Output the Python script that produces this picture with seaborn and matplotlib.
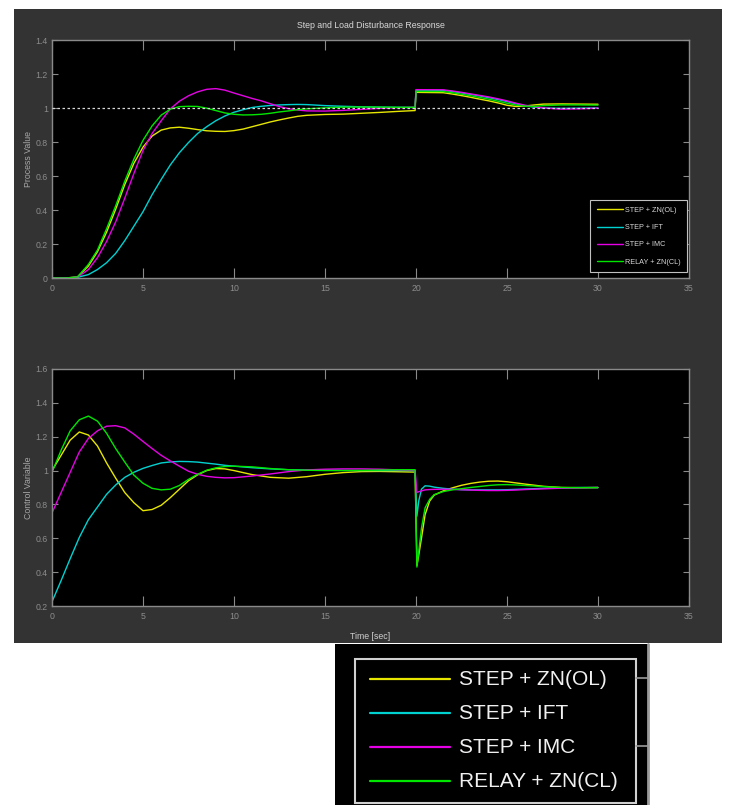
import matplotlib
matplotlib.use("Agg")
import numpy as np
import pandas as pd
import matplotlib.pyplot as plt
import seaborn as sns
from matplotlib.patches import Rectangle
from matplotlib.lines import Line2D

# ---- data ----
methods = ["STEP + ZN(OL)", "STEP + IFT", "STEP + IMC", "RELAY + ZN(CL)"]
colors = ["#e6e600", "#00d2d2", "#e600e6", "#00e600"]

setpoint = 1.0
setpoint_t = [0, 30]

# process value (top panel)
t_pv = [0, 0.75, 1.4, 2.0, 2.5, 3.0, 3.5, 4.0, 4.5, 5.0, 5.5, 6.0, 6.5, 7.0, 7.5,
        8.0, 8.5, 9.0, 9.5, 10.0, 10.5, 11.0, 11.5, 12.0, 12.5, 13.0, 13.5, 14.0,
        15.0, 16.0, 17.0, 18.0, 19.0, 19.95, 20.0, 21.5, 22.0, 22.5, 23.0, 23.5,
        24.0, 24.5, 25.0, 25.5, 26.0, 26.5, 27.0, 28.0, 29.0, 30.0]
pv_zn_ol = [0, 0.0, 0.006, 0.07, 0.155, 0.27, 0.405, 0.55, 0.675, 0.77, 0.835, 0.87,
            0.883, 0.887, 0.881, 0.873, 0.866, 0.863, 0.862, 0.867, 0.876, 0.89, 0.904,
            0.918, 0.93, 0.941, 0.951, 0.957, 0.962, 0.964, 0.969, 0.974, 0.98, 0.985,
            1.092, 1.09, 1.082, 1.073, 1.063, 1.052, 1.042, 1.03, 1.016, 1.009, 1.012,
            1.018, 1.023, 1.024, 1.023, 1.022]
pv_ift = [0, 0.0, 0.004, 0.02, 0.05, 0.09, 0.145, 0.22, 0.305, 0.39, 0.49, 0.58,
          0.665, 0.737, 0.797, 0.85, 0.89, 0.925, 0.953, 0.975, 0.99, 1.003, 1.01,
          1.015, 1.018, 1.02, 1.021, 1.02, 1.014, 1.01, 1.007, 1.005, 1.004, 1.003,
          1.105, 1.104, 1.097, 1.089, 1.08, 1.071, 1.061, 1.05, 1.038, 1.025, 1.013,
          1.005, 1.0, 0.998, 0.999, 1.0]
pv_imc = [0, 0.0, 0.005, 0.05, 0.12, 0.215, 0.33, 0.47, 0.615, 0.75, 0.85, 0.925,
          0.995, 1.04, 1.072, 1.095, 1.11, 1.114, 1.105, 1.088, 1.072, 1.056, 1.042,
          1.025, 1.008, 0.996, 0.988, 0.983, 0.982, 0.986, 0.992, 0.998, 1.002, 1.004,
          1.108, 1.107, 1.1, 1.092, 1.083, 1.074, 1.065, 1.054, 1.042, 1.028, 1.016,
          1.008, 1.0, 0.993, 0.995, 0.999]
pv_relay = [0, 0.0, 0.006, 0.08, 0.165, 0.29, 0.425, 0.57, 0.70, 0.81, 0.895, 0.958,
            0.993, 1.008, 1.01, 1.009, 0.999, 0.985, 0.971, 0.963, 0.959, 0.96, 0.963,
            0.969, 0.977, 0.983, 0.99, 0.995, 1.001, 1.005, 1.006, 1.005, 1.004, 1.004,
            1.098, 1.097, 1.09, 1.081, 1.072, 1.062, 1.052, 1.04, 1.028, 1.017, 1.011,
            1.009, 1.014, 1.018, 1.018, 1.017]

# control variable (bottom panel)
t_cv = [0, 0.5, 1.0, 1.5, 2.0, 2.5, 3.0, 3.5, 4.0, 4.5, 5.0, 5.5, 6.0, 6.5, 7.0, 7.5,
        8.0, 8.5, 9.0, 9.5, 10.0, 11.0, 12.0, 13.0, 14.0, 15.0, 16.0, 17.0, 18.0,
        19.0, 19.95, 20.05, 20.15, 20.3, 20.5, 20.75, 21.0, 21.5, 22.0, 22.5, 23.0,
        23.5, 24.0, 24.5, 25.0, 25.5, 26.0, 27.0, 28.0, 29.0, 30.0]
cv_zn_ol = [1.0, 1.09, 1.18, 1.228, 1.21, 1.145, 1.045, 0.955, 0.87, 0.81, 0.763, 0.77,
            0.795, 0.84, 0.89, 0.94, 0.975, 1.0, 1.012, 1.01, 1.0, 0.976, 0.96, 0.955,
            0.964, 0.978, 0.988, 0.994, 0.995, 0.993, 0.991, 0.44, 0.5, 0.6, 0.74, 0.82,
            0.855, 0.88, 0.898, 0.913, 0.924, 0.932, 0.937, 0.938, 0.934, 0.927, 0.92,
            0.907, 0.9, 0.899, 0.9]
cv_ift = [0.225, 0.35, 0.48, 0.605, 0.71, 0.785, 0.86, 0.915, 0.96, 0.99, 1.013, 1.03,
          1.045, 1.051, 1.054, 1.053, 1.05, 1.044, 1.038, 1.031, 1.026, 1.017, 1.01,
          1.005, 1.003, 1.002, 1.001, 1.0, 1.0, 1.0, 1.0, 0.73, 0.82, 0.89, 0.91, 0.908,
          0.902, 0.895, 0.89, 0.887, 0.886, 0.886, 0.886, 0.886, 0.887, 0.889, 0.891,
          0.895, 0.898, 0.9, 0.9]
cv_imc = [0.75, 0.87, 0.99, 1.11, 1.19, 1.235, 1.262, 1.265, 1.252, 1.215, 1.172, 1.13,
          1.09, 1.057, 1.026, 0.996, 0.978, 0.966, 0.96, 0.957, 0.958, 0.968, 0.98,
          0.994, 1.004, 1.008, 1.01, 1.01, 1.008, 1.004, 1.002, 0.87, 0.875, 0.88,
          0.886, 0.888, 0.889, 0.89, 0.889, 0.887, 0.885, 0.883, 0.882, 0.882, 0.883,
          0.885, 0.888, 0.892, 0.896, 0.898, 0.9]
cv_relay = [0.99, 1.12, 1.235, 1.3, 1.322, 1.292, 1.22, 1.13, 1.05, 0.973, 0.925, 0.895,
            0.886, 0.89, 0.912, 0.948, 0.978, 1.002, 1.016, 1.024, 1.026, 1.022, 1.012,
            1.005, 1.002, 1.0, 1.0, 1.001, 1.003, 1.005, 1.005, 0.43, 0.52, 0.66, 0.78,
            0.83, 0.858, 0.876, 0.886, 0.893, 0.9, 0.906, 0.912, 0.916, 0.917, 0.915,
            0.912, 0.905, 0.9, 0.899, 0.899]

x_ticks = [0, 5, 10, 15, 20, 25, 30, 35]
pv_ticks = [0, 0.2, 0.4, 0.6, 0.8, 1.0, 1.2, 1.4]
cv_ticks = [0.2, 0.4, 0.6, 0.8, 1.0, 1.2, 1.4, 1.6]


def long_frame(t, series):
    parts = [pd.DataFrame({"t": t, "value": v, "method": m}) for m, v in zip(methods, series)]
    return pd.concat(parts, ignore_index=True)


df_pv = long_frame(t_pv, [pv_zn_ol, pv_ift, pv_imc, pv_relay])
df_cv = long_frame(t_cv, [cv_zn_ol, cv_ift, cv_imc, cv_relay])

sns.set_theme(style="dark")
plt.rcParams["font.family"] = ["Liberation Sans", "DejaVu Sans"]

W, H = 729, 805
fig = plt.figure(figsize=(W / 100, H / 100), dpi=100)
fig.patch.set_facecolor("white")


def fx(px):
    return px / W


def fy(py):
    return 1 - py / H


# dark figure background (MATLAB style window)
fig.add_artist(Rectangle((fx(14), fy(643)), fx(722) - fx(14), fy(9) - fy(643),
                         transform=fig.transFigure, facecolor="#333333",
                         edgecolor="none", zorder=-1))

ax1 = fig.add_axes([fx(52), fy(278), fx(689) - fx(52), fy(40) - fy(278)])
ax2 = fig.add_axes([fx(52), fy(606), fx(689) - fx(52), fy(369) - fy(606)])

palette = dict(zip(methods, colors))
sns.lineplot(data=df_pv, x="t", y="value", hue="method", hue_order=methods,
             palette=palette, estimator=None, linewidth=1.0, legend=False, ax=ax1)
sns.lineplot(data=df_cv, x="t", y="value", hue="method", hue_order=methods,
             palette=palette, estimator=None, linewidth=1.0, legend=False, ax=ax2)

ax1.plot(setpoint_t, [setpoint, setpoint], color="#d8d8d8", lw=0.9,
         linestyle=(0, (2, 2)), zorder=5)

for ax, yt, ylim in [(ax1, pv_ticks, (0, 1.4)), (ax2, cv_ticks, (0.2, 1.6))]:
    ax.set_facecolor("black")
    ax.set_xlim(0, 35)
    ax.set_ylim(*ylim)
    ax.set_xticks(x_ticks)
    ax.set_xticklabels([f"{v:g}" for v in x_ticks])
    ax.set_yticks(yt)
    ax.set_yticklabels([f"{v:g}" for v in yt])
    ax.grid(False)
    for s in ax.spines.values():
        s.set_visible(True)
        s.set_color("#8a8a8a")
        s.set_linewidth(1.0)
    ax.tick_params(axis="x", direction="in", length=7, width=0.8, color="#8a8a8a",
                   top=True, bottom=True, labelsize=6.3, labelcolor="#8c8c8c", pad=4)
    ax.tick_params(axis="y", direction="in", length=4.5, width=0.8, color="#8a8a8a",
                   left=True, right=True, labelsize=6.3, labelcolor="#8c8c8c", pad=3)
    ax.set_xlabel("")

ax1.set_ylabel("Process Value", fontsize=6.3, color="#a8a8a8", labelpad=2)
ax2.set_ylabel("Control Variable", fontsize=6.3, color="#a8a8a8", labelpad=2)
ax2.set_xlabel("Time [sec]", fontsize=6.3, color="#d0d0d0", labelpad=8)
ax1.set_title("Step and Load Disturbance Response", fontsize=6.3, color="#d8d8d8", pad=9)

handles = [Line2D([], [], color=c, lw=1.0) for c in colors]
leg = ax1.legend(handles, methods, loc="lower right",
                 bbox_to_anchor=(fx(687), fy(272)), bbox_transform=fig.transFigure,
                 borderaxespad=0, fontsize=5.2, handlelength=3.6, handletextpad=0.3,
                 labelspacing=1.4, borderpad=0.9, fancybox=False, framealpha=1)
leg.get_frame().set_facecolor("black")
leg.get_frame().set_edgecolor("#c0c0c0")
leg.get_frame().set_linewidth(0.8)
for txt in leg.get_texts():
    txt.set_color("#d8d8d8")

# enlarged legend crop at the bottom
fig.add_artist(Rectangle((fx(335), fy(805)), fx(648) - fx(335), fy(644) - fy(805),
                         transform=fig.transFigure, facecolor="black",
                         edgecolor="none", zorder=2))
fig.add_artist(Line2D([fx(648), fx(648)], [fy(644), fy(805)], transform=fig.transFigure,
                      color="#9a9a9a", lw=2, zorder=3))
fig.add_artist(Rectangle((fx(355), fy(803)), fx(636) - fx(355), fy(659) - fy(803),
                         transform=fig.transFigure, facecolor="none",
                         edgecolor="#d0d0d0", lw=1.5, zorder=3))
for yy in [678, 746]:
    fig.add_artist(Line2D([fx(636), fx(648)], [fy(yy), fy(yy)], transform=fig.transFigure,
                          color="#9a9a9a", lw=1.2, zorder=3))
for i, (m, c) in enumerate(zip(methods, colors)):
    yy = 679 + i * 34
    fig.add_artist(Line2D([fx(370), fx(450)], [fy(yy), fy(yy)], transform=fig.transFigure,
                          color=c, lw=1.6, zorder=4))
    fig.text(fx(459), fy(yy), m, fontsize=15, color="#f0f0f0", va="center",
             ha="left", zorder=4)

fig.savefig("out.png", dpi=100, facecolor="white")
